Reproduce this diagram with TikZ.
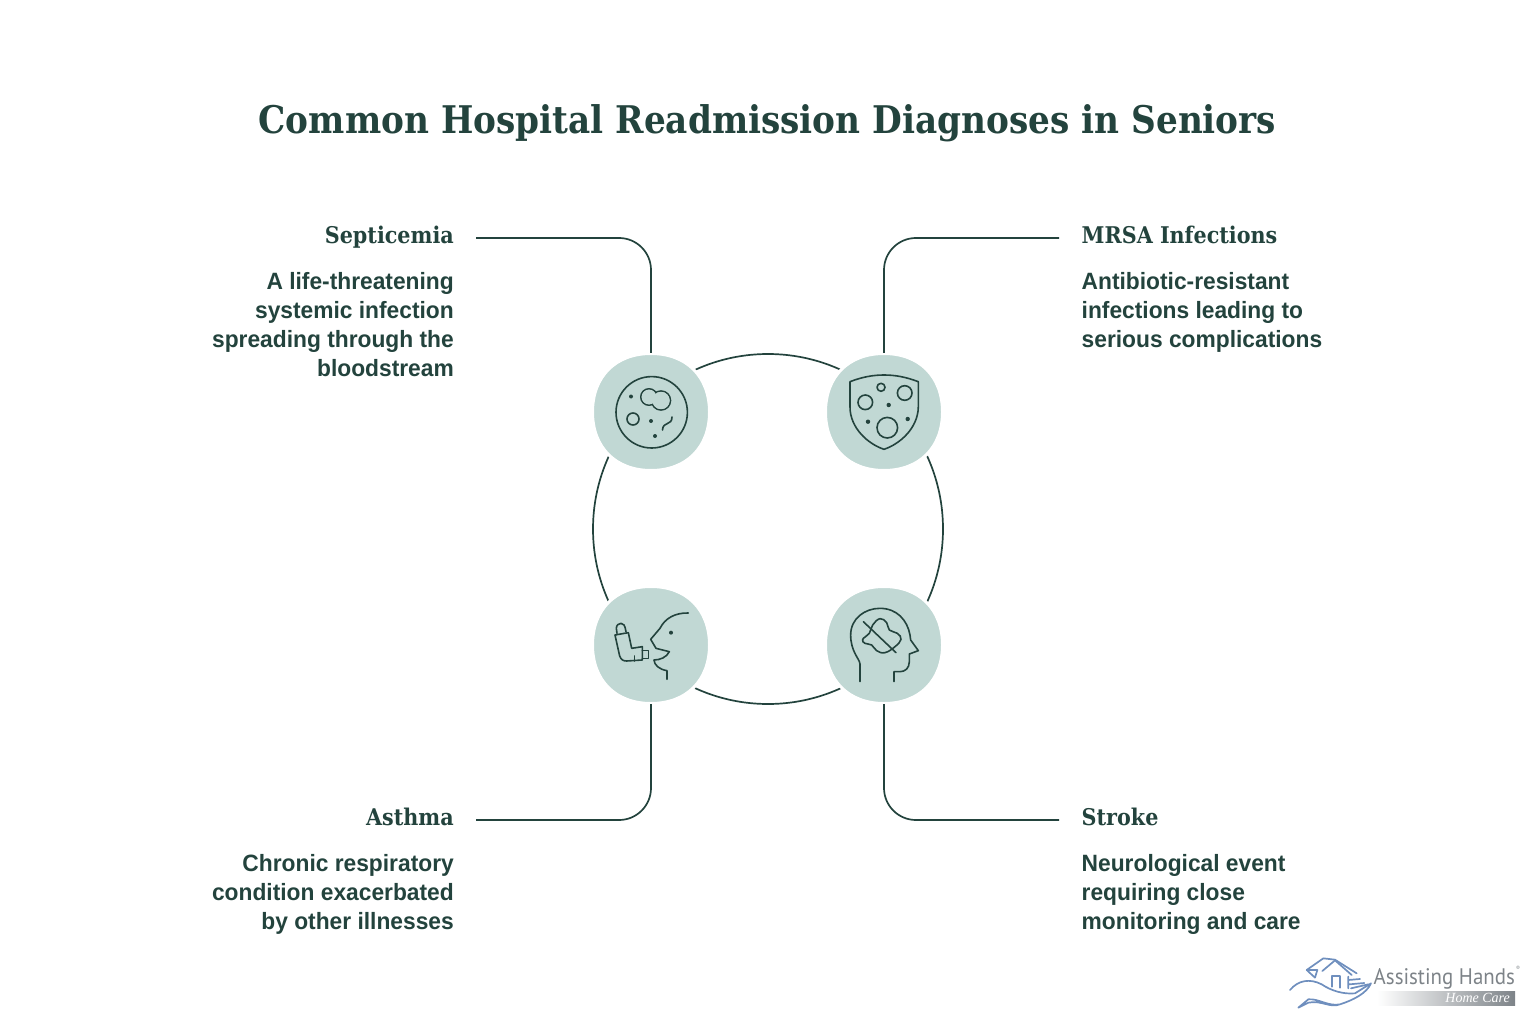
\documentclass[tikz,border=0pt]{standalone}
\usepackage{fontspec}
\setmainfont{Liberation Sans}
\newfontfamily\headfont{DejaVu Serif Condensed}[BoldFont={* Bold}]
\newfontfamily\bodyfont{Liberation Sans}[FakeStretch=0.965]
\newfontfamily\logofont{PT Sans}[FakeStretch=0.93]
\newfontfamily\logoit{Liberation Serif}
\definecolor{ink}{HTML}{23433D}
\definecolor{blobc}{HTML}{C1D8D4}
\definecolor{logob}{HTML}{6F8FBE}
\definecolor{logog}{HTML}{7D8388}
\tikzset{
 x=1pt,y=-1pt,
 conn/.style={draw=ink,line width=1.7pt,rounded corners=32pt},
 icon/.style={draw=ink,line width=1.6pt,line cap=round,line join=round},
 dotm/.style={fill=ink,draw=none},
 titlet/.style={font=\headfont\bfseries\fontsize{38.1}{46}\selectfont,text=ink,inner sep=0pt},
 headt/.style={font=\headfont\bfseries\fontsize{23}{28}\selectfont,text=ink,inner sep=0pt},
 bodyr/.style={font=\bodyfont\bfseries\fontsize{23.6}{29}\selectfont,text=ink,inner sep=0pt,align=right,anchor=north east},
 bodyl/.style={font=\bodyfont\bfseries\fontsize{23.6}{29}\selectfont,text=ink,inner sep=0pt,align=left,anchor=north west},
 hub/.style={circle,minimum size=114pt,inner sep=0pt},
 logol/.style={draw=logob,line width=1.7pt,line join=round,line cap=round},
}
\newcommand{\blobat}[1]{%
 \path[fill=blobc,draw=white,line width=3pt] (#1) ++(-58.5,0)
 .. controls +(0,-35.5) and +(-35.5,0) .. ++(58.5,-58.5)
 .. controls +(35.5,0) and +(0,-35.5) .. ++(58.5,58.5)
 .. controls +(0,35.5) and +(35.5,0) .. ++(-58.5,58.5)
 .. controls +(-35.5,0) and +(0,35.5) .. ++(-58.5,-58.5) -- cycle;}
\begin{document}
\begin{tikzpicture}
\useasboundingbox (0,0) rectangle (1536,1024);
\node[titlet] (title) at (767.5,123.5) {Common Hospital Readmission Diagnoses in Seniors};
% ring
\node[circle,draw=ink,line width=1.7pt,minimum size=350pt,inner sep=0pt] (ring) at (768,529) {};
% hubs
\node[hub] (sep) at (651,412) {};
\node[hub] (mrsa) at (884,412) {};
\node[hub] (asth) at (651,645) {};
\node[hub] (strk) at (884,645) {};
\blobat{sep}\blobat{mrsa}\blobat{asth}\blobat{strk}
% connectors
\coordinate (c1) at (476,238);
\coordinate (c2) at (1059,238);
\coordinate (c3) at (476,820);
\coordinate (c4) at (1059,820);
\draw[conn] (c1) -| ([yshift=2pt]sep.north);
\draw[conn] (c2) -| ([yshift=2pt]mrsa.north);
\draw[conn] (c3) -| ([yshift=-2pt]asth.south);
\draw[conn] (c4) -| ([yshift=-2pt]strk.south);
% labels
\node[headt,anchor=base east] (h1) at (454,244) {Septicemia};
\node[headt,anchor=base west] (h2) at (1081.5,244) {MRSA Infections};
\node[headt,anchor=base east] (h3) at (454,825.5) {Asthma};
\node[headt,anchor=base west] (h4) at (1081.5,825.5) {Stroke};
\node[bodyr] (b1) at (454,272) {A life-threatening\\systemic infection\\spreading through the\\bloodstream};
\node[bodyl] (b2) at (1081.5,272) {Antibiotic-resistant\\infections leading to\\serious complications};
\node[bodyr] (b3) at (454,854) {Chronic respiratory\\condition exacerbated\\by other illnesses};
\node[bodyl] (b4) at (1081.5,854) {Neurological event\\requiring close\\monitoring and care};
% icon 1
\draw[icon] (651.7,412.3) circle[radius=35.7pt];
\draw[icon] (649,397) circle[radius=8.2pt] (661,400.5) circle[radius=9.5pt];
\fill[blobc] (649,397) circle[radius=7.4pt] (661,400.5) circle[radius=8.7pt];
\draw[icon] (633,419) circle[radius=6pt];
\fill[dotm] (631,396.5) circle[radius=2pt] (651,421) circle[radius=2pt] (655,436) circle[radius=2pt];
\draw[icon] (672,417) .. controls (672,426) and (663,421) .. (662.5,430);
% icon 2
\draw[icon] (850,381.7) .. controls (862,377) and (873,375) .. (884,375) .. controls (895,375) and (906,377) .. (918.3,381.7)
 -- (918.3,407) .. controls (918,428) and (900,444) .. (884,449.3) .. controls (868,444) and (850,428) .. (850,407) -- cycle;
\draw[icon] (881,387.3) circle[radius=4pt] (904.7,393) circle[radius=7.3pt] (865.3,402.3) circle[radius=7.3pt] (887.3,427.7) circle[radius=10.3pt];
\fill[dotm] (888.7,405) circle[radius=2.2pt] (868,421.7) circle[radius=2.2pt] (907.7,419) circle[radius=2.2pt];
% icon 3
\begin{scope}[shift={(585,580)},x=.3333pt,y=-.3333pt]
\draw[icon] (310,99) .. controls (270,98) and (240,115) .. (225,145) -- (197,178) -- (213,205) -- (253,215)
 .. controls (245,232) and (225,240) .. (207,240) .. controls (208,255) and (222,268) .. (246,272) -- (246,298);
\fill[dotm] (258,158) circle[radius=2pt];
\draw[icon] (96,160) -- (94,145) .. controls (94,135) and (102,130) .. (108,130) .. controls (115,130) and (120,135) .. (123,155);
\draw[icon] (90,165) -- (130,158) -- (140,205) -- (172,200) -- (172,240) -- (125,243)
 .. controls (113,243) and (108,238) .. (104,228) -- cycle;
\draw[icon] (172,212) -- (190,212) -- (190,236) -- (172,236);
\draw[icon] (148,228) -- (148,243);
\end{scope}
% icon 4
\begin{scope}[shift={(820,580)},x=.3333pt,y=-.3333pt]
\draw[icon] (120,305) -- (120,252) .. controls (118,235) and (92,215) .. (92,165)
 .. controls (92,115) and (135,85) .. (180,85) .. controls (230,85) and (262,120) .. (270,165)
 -- (272,180) -- (295,212) -- (268,222) -- (268,245) .. controls (268,265) and (255,275) .. (240,275) -- (222,275) -- (222,305);
\draw[icon] (130,125) -- (228,218);
\draw[icon] plot[smooth cycle,tension=.7] coordinates {(128,178) (148,160) (158,135) (180,116) (200,128) (208,150) (232,160) (243,178) (225,200) (195,218) (170,212) (155,195) (135,190)};
\end{scope}
% logo
\begin{scope}[shift={(1285,955)},x=.3333pt,y=-.3333pt]
\draw[logol] (65,45) -- (115,10) -- (150,14) -- (215,55);
\draw[logol] (65,45) -- (90,68) -- (97,45) -- (65,45);
\draw[logol] (112,48) -- (150,16) -- (200,60);
\draw[logol] (140,95) -- (140,62) -- (165,62) -- (165,98);
\draw[logol] (190,65) -- (190,100) (190,75) -- (225,72) (193,88) -- (238,84) (198,100) -- (250,88);
\draw[logol] (15,105) .. controls (40,75) and (75,70) .. (110,88) .. controls (140,108) and (175,118) .. (210,115) -- (250,90) -- (258,85)
 .. controls (245,115) and (205,135) .. (165,148) .. controls (130,155) and (100,130) .. (70,133) -- (40,158) -- (70,143) .. controls (110,135) and (135,160) .. (165,148);
\end{scope}
\node[font=\logofont\fontsize{22.5}{26}\selectfont,text=logog,inner sep=0pt,anchor=base west] (lname) at (1373.5,984) {Assisting Hands};
\node[font=\logofont\fontsize{6}{7}\selectfont,text=logog,inner sep=0pt,anchor=west] (lreg) at (1516,968) {®};
\node[shade,left color=white,right color=logog,minimum width=138pt,minimum height=14pt,inner sep=0pt,anchor=west] (lbar) at (1377,998) {};
\node[font=\logoit\itshape\fontsize{14}{16}\selectfont,text=white,inner sep=0pt,anchor=east] (lcare) at (1510,998) {Home Care};
\end{tikzpicture}
\end{document}
